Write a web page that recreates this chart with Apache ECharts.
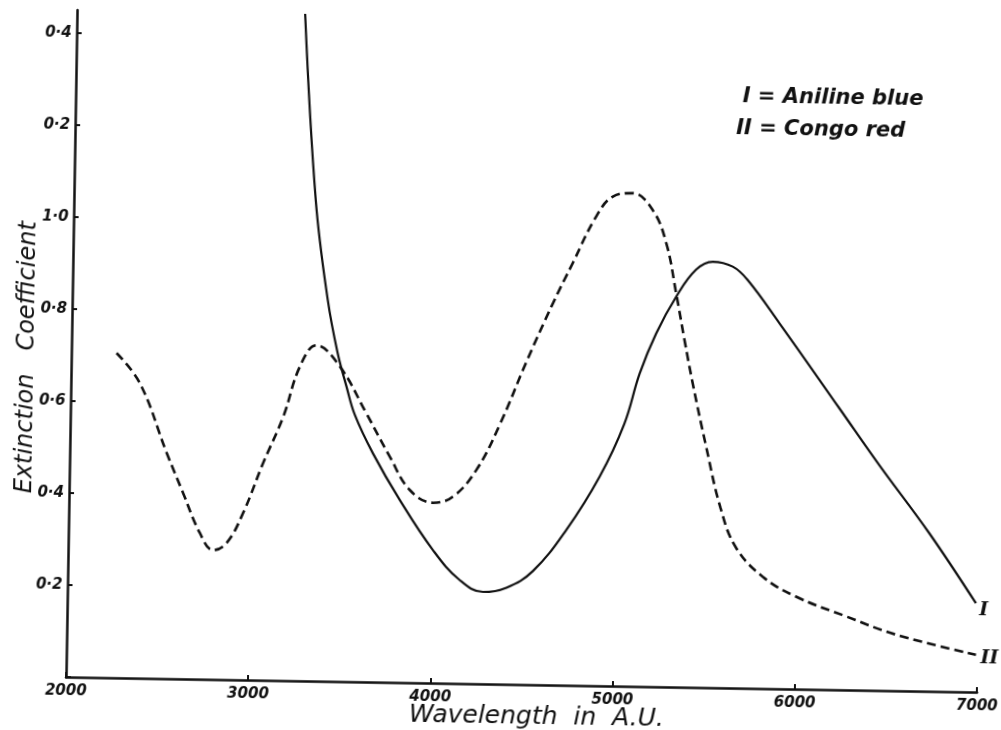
<!DOCTYPE html>
<html>
<head>
<meta charset="utf-8">
<script src="https://cdn.jsdelivr.net/npm/echarts@6/dist/echarts.min.js"></script>
<style>
  html, body { margin: 0; padding: 0; background: #ffffff; overflow: hidden; }
  #chart { width: 1001px; height: 730px; transform: rotate(0.95deg); transform-origin: 66px 677px; }
</style>
</head>
<body>
<div id="chart"></div>
<script>
// Curve I : Aniline blue (solid)
const anilineWave = [3252, 3327, 3402, 3460, 3513, 3561, 3664, 3815, 4002, 4151, 4280, 4408, 4552, 4732, 4910, 5040, 5120, 5207, 5314, 5420, 5511, 5621, 5703, 5882, 6219, 6443, 6723, 6986];
const anilineExt  = [1.45, 1.046, 0.829, 0.716, 0.641, 0.580, 0.497, 0.397, 0.289, 0.225, 0.200, 0.210, 0.247, 0.338, 0.455, 0.570, 0.680, 0.768, 0.849, 0.908, 0.926, 0.916, 0.888, 0.795, 0.612, 0.490, 0.344, 0.193];
// Curve II : Congo red (dashed)
const congoWave = [2248, 2379, 2532, 2626, 2721, 2796, 2869, 2957, 3062, 3168, 3255, 3344, 3474, 3624, 3756, 3869, 3998, 4107, 4233, 4356, 4497, 4638, 4743, 4867, 4957, 5066, 5177, 5254, 5315, 5363, 5412, 5492, 5576, 5665, 5814, 5998, 6274, 6550, 6991];
const congoExt  = [0.706, 0.641, 0.491, 0.404, 0.318, 0.281, 0.297, 0.363, 0.472, 0.573, 0.683, 0.730, 0.685, 0.584, 0.491, 0.419, 0.392, 0.406, 0.465, 0.563, 0.701, 0.830, 0.918, 1.020, 1.064, 1.072, 1.036, 0.965, 0.852, 0.755, 0.661, 0.523, 0.391, 0.305, 0.243, 0.201, 0.160, 0.122, 0.081];

const xTickLabels = ['2000', '3000', '4000', '5000', '6000', '7000'];
const yTickLabels = ['', '0·2', '0·4', '0·6', '0·8', '1·0', '0·2', '0·4'];

const legendLines = ['I = Aniline blue', 'II = Congo red'];
const curveTags = ['I', 'II'];
const xTitle = 'Wavelength  in  A.U.';
const yTitle = 'Extinction   Coefficient';

const zip = (a, b) => a.map((v, i) => [v, b[i]]);

const chart = echarts.init(document.getElementById('chart'), null, { renderer: 'canvas' });
const labelFont = { fontFamily: 'DejaVu Sans', fontStyle: 'italic', fontWeight: 'bold', fontSize: 15, color: '#111' };

chart.setOption({
  backgroundColor: '#ffffff',
  animation: false,
  grid: { left: 66, right: 23, top: 10, bottom: 53, containLabel: false },
  xAxis: {
    type: 'value', min: 2000, max: 7000, interval: 1000,
    axisLine: { lineStyle: { color: '#111', width: 2.5 } },
    axisTick: { inside: true, length: 5, lineStyle: { color: '#111', width: 2 } },
    splitLine: { show: false },
    axisLabel: Object.assign({ margin: 7, formatter: v => xTickLabels[Math.round((v - 2000) / 1000)] || '' }, labelFont)
  },
  yAxis: {
    type: 'value', min: 0, max: 1.45, interval: 0.2,
    axisLine: { show: true, lineStyle: { color: '#111', width: 2.5 } },
    axisTick: { show: true, inside: true, length: 5, lineStyle: { color: '#111', width: 2 } },
    splitLine: { show: false },
    axisLabel: Object.assign({ margin: 5, showMaxLabel: false, formatter: v => {
      const k = v / 0.2; const r = Math.round(k);
      return Math.abs(k - r) < 1e-6 ? (yTickLabels[r] || '') : '';
    } }, labelFont)
  },
  series: [
    {
      name: 'Aniline blue', type: 'line', data: zip(anilineWave, anilineExt),
      showSymbol: false, smooth: 0.4, clip: true,
      lineStyle: { color: '#111', width: 2.2, type: 'solid' }
    },
    {
      name: 'Congo red', type: 'line', data: zip(congoWave, congoExt),
      showSymbol: false, smooth: 0.4, clip: true,
      lineStyle: { color: '#111', width: 2.6, type: [9, 5] }
    }
  ],
  graphic: [
    { type: 'text', left: 733, top: 75, style: { text: legendLines[0], font: 'italic bold 21px "DejaVu Sans"', fill: '#111' } },
    { type: 'text', left: 727, top: 107, style: { text: legendLines[1], font: 'italic bold 21px "DejaVu Sans"', fill: '#111' } },
    { type: 'text', left: 978, top: 586, style: { text: curveTags[0], font: 'italic bold 19px "DejaVu Serif"', fill: '#111' } },
    { type: 'text', left: 980, top: 634, style: { text: curveTags[1], font: 'italic bold 19px "DejaVu Serif"', fill: '#111' } },
    { type: 'text', x: 537, y: 709, style: { text: xTitle, font: 'italic 25px "DejaVu Sans"', fill: '#111', align: 'center', verticalAlign: 'middle' } },
    { type: 'text', x: 22, y: 358, rotation: Math.PI / 2, style: { text: yTitle, font: 'italic 24px "DejaVu Sans"', fill: '#111', align: 'center', verticalAlign: 'middle' } }
  ]
});
</script>
</body>
</html>
